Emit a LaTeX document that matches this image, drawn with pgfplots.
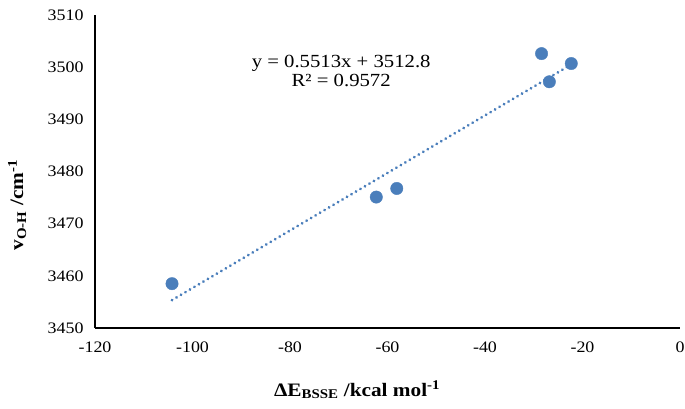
\documentclass[border=0pt]{standalone}
\usepackage{pgfplots}
\pgfplotsset{compat=1.18}
\usepackage{fontspec}
\setmainfont[FakeStretch=1.12]{Liberation Serif}
\definecolor{ptblue}{HTML}{4A7EBB}
\begin{document}
\begin{tikzpicture}
\useasboundingbox (-95pt,-81pt) rectangle (590pt,328pt);
\begin{axis}[
  at={(0pt,0pt)}, anchor=south west,
  scale only axis, width=585pt, height=313pt,
  xmin=-120, xmax=0, ymin=3450, ymax=3510,
  xtick={-120,-100,...,0}, ytick={3450,3460,...,3510},
  axis x line*=bottom, axis y line*=left,
  axis line style={black, line width=1.1pt, -},
  major tick length=0pt,
  tick label style={font=\fontsize{16}{18}\selectfont},
  /pgf/number format/assume math mode=true,
  /pgf/number format/1000 sep={},
  xticklabel style={yshift=-10pt},
  yticklabel style={xshift=-8pt},
  xlabel={\textbf{ΔE\textsubscript{BSSE} /kcal mol\textsuperscript{-1}}},
  ylabel={\textbf{v\textsubscript{O-H} /cm\textsuperscript{-1}}},
  label style={font=\fontsize{19}{22}\selectfont},
  xlabel style={at={(rel axis cs:0.448,0)}, anchor=center, yshift=-62pt},
  ylabel style={at={(rel axis cs:-0.133,0.393)}, anchor=center, rotate=0},
  clip=false,
]
\addplot[only marks, mark=*, mark size=6.2pt, mark options={fill=ptblue, draw=ptblue}]
coordinates {(-104.2,3458.5) (-62.3,3475.1) (-58.1,3476.75) (-28.4,3502.6) (-26.8,3497.2) (-22.3,3500.7)};
\addplot[ptblue, line width=3.1pt, line cap=round, dash pattern=on 0.01pt off 5.2pt]
coordinates {(-104.2,3455.35) (-22.3,3500.51)};
\node[align=center, font=\fontsize{18.5}{19}\selectfont] at (axis cs:-69.5,3499.2) {y = 0.5513x + 3512.8\\R² = 0.9572};
\end{axis}
\end{tikzpicture}
\end{document}
